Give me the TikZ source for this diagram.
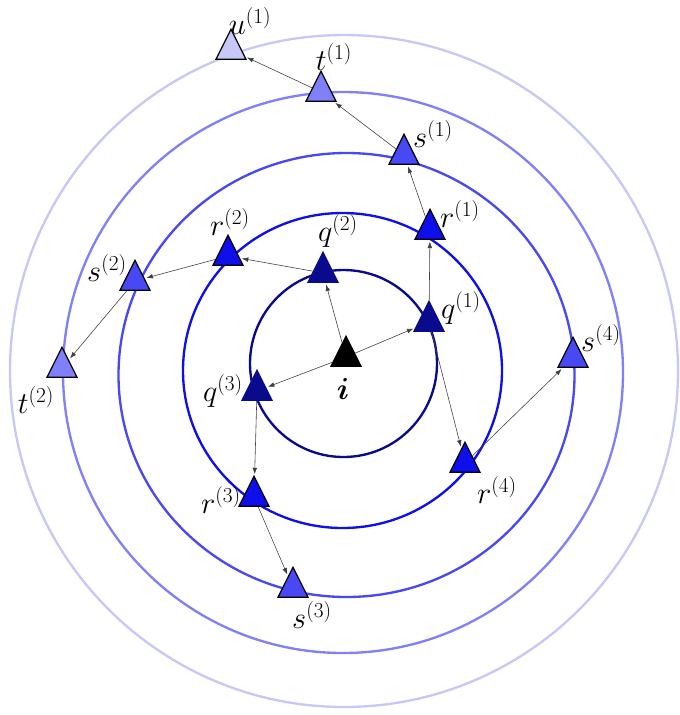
\RequirePackage{fix-cm}
\documentclass[tikz,border=0pt]{standalone}
\usepackage{bm}
\usetikzlibrary{arrows.meta,shapes.geometric}
\definecolor{levelA}{RGB}{10,10,140}
\definecolor{levelB}{RGB}{15,15,235}
\definecolor{levelC}{RGB}{72,72,245}
\definecolor{levelD}{RGB}{128,128,250}
\definecolor{levelE}{RGB}{200,200,248}
\tikzset{
  ring/.style={line width=2pt},
  tri/.style={isosceles triangle, isosceles triangle stretches, shape border rotate=90,
    minimum width=25.6pt, minimum height=25.6pt, inner sep=0pt, draw=black, line width=1pt},
  link/.style={-{Latex[length=5.5pt,width=4pt]}, draw=black!75, line width=0.5pt, shorten >=1.5pt},
  lbl/.style={font=\fontsize{26}{31}\selectfont, inner sep=0pt}
}
\begin{document}
\begin{tikzpicture}[x=0.03cm, y=-0.03cm]
  \useasboundingbox (0,0) rectangle (680,715);
  % levels
  \draw[ring, levelE] (344,371) ellipse (334 and 336);
  \draw[ring, levelD] (343,372.5) ellipse (280 and 280.5);
  \draw[ring, levelC] (346.5,375) ellipse (228 and 222);
  \draw[ring, levelB] (342.5,370.5) ellipse (159.5 and 157.5);
  \draw[ring, levelA] (343.5,363.5) circle (93.5);

  % vertices
  \node[tri, fill=black] (i) at (346,357) {};
  \node[tri, fill=levelA, draw=levelA] (q1) at (429,322) {};
  \node[tri, fill=levelA, draw=levelA] (q2) at (323,273) {};
  \node[tri, fill=levelA, draw=levelA] (q3) at (257,391) {};
  \node[tri, fill=levelB] (r1) at (430,230) {};
  \node[tri, fill=levelB] (r2) at (228,256) {};
  \node[tri, fill=levelB] (r3) at (254,497) {};
  \node[tri, fill=levelB] (r4) at (465,463) {};
  \node[tri, fill=levelC] (s1) at (404,155) {};
  \node[tri, fill=levelC] (s2) at (135,281) {};
  \node[tri, fill=levelC] (s3) at (293,588) {};
  \node[tri, fill=levelC] (s4) at (573,358) {};
  \node[tri, fill=levelD] (t1) at (321,92) {};
  \node[tri, fill=levelD] (t2) at (62,368) {};
  \node[tri, fill=levelE] (u1) at (231,50) {};

  % labels
  \node[lbl] (li) at (343,389) {$\bm{i}$};
  \node[lbl] (lq1) at (461,308) {$q^{(1)}$};
  \node[lbl] (lq2) at (338,231) {$q^{(2)}$};
  \node[lbl] (lq3) at (223,391) {$q^{(3)}$};
  \node[lbl] (lr1) at (460,214) {$r^{(1)}$};
  \node[lbl] (lr2) at (230,222) {$r^{(2)}$};
  \node[lbl] (lr3) at (221,500) {$r^{(3)}$};
  \node[lbl] (lr4) at (497,490) {$r^{(4)}$};
  \node[lbl] (ls1) at (433,134) {$s^{(1)}$};
  \node[lbl] (ls2) at (107,268) {$s^{(2)}$};
  \node[lbl] (ls3) at (312,615) {$s^{(3)}$};
  \node[lbl] (ls4) at (601,338) {$s^{(4)}$};
  \node[lbl] (lt1) at (334,57) {$t^{(1)}$};
  \node[lbl] (lt2) at (36,400) {$t^{(2)}$};
  \node[lbl] (lu1) at (250,21) {$u^{(1)}$};

  % paths
  \draw[link] (i) -- (q1);
  \draw[link] (i) -- (q2);
  \draw[link] (i) -- (q3);
  \draw[link] (q1) -- (r1);
  \draw[link] (q1) -- (r4);
  \draw[link] (q2) -- (r2);
  \draw[link] (q3) -- (r3);
  \draw[link] (r1) -- (s1);
  \draw[link] (r2) -- (s2);
  \draw[link] (r3) -- (s3);
  \draw[link] (r4) -- (s4);
  \draw[link] (s1) -- (t1);
  \draw[link] (s2) -- (t2);
  \draw[link] (t1) -- (u1);
\end{tikzpicture}
\end{document}
